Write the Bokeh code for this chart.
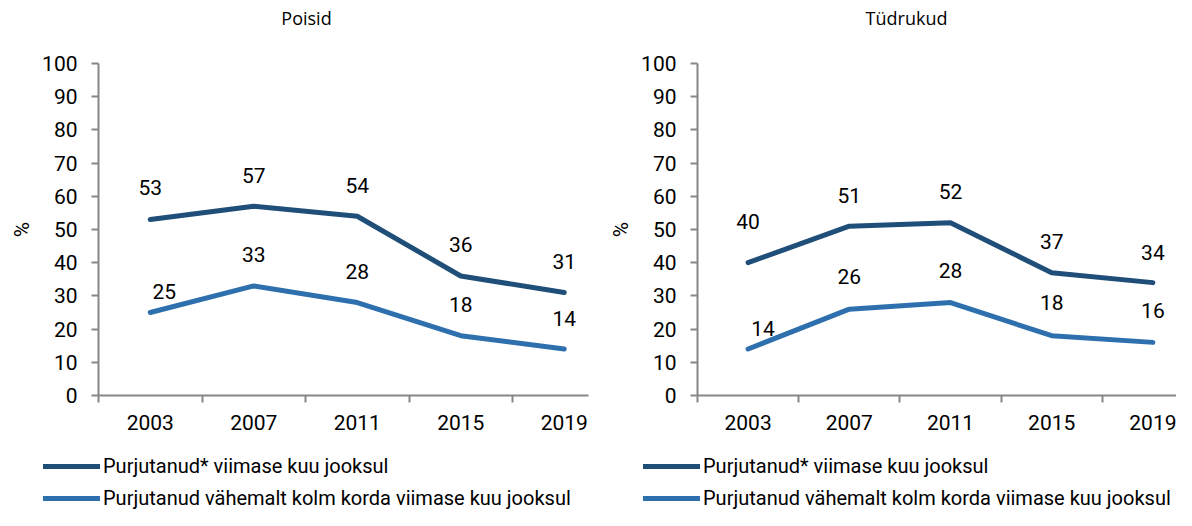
from bokeh.plotting import figure
from bokeh.models import Range1d, FixedTicker, Legend, LegendItem, Label, ColumnDataSource
from bokeh.layouts import row
from bokeh.embed import file_html
from bokeh.resources import INLINE
from bokeh.core.properties import value

# ---- data ----
years = ["2003", "2007", "2011", "2015", "2019"]
boys_month = [53, 57, 54, 36, 31]
boys_three = [25, 33, 28, 18, 14]
girls_month = [40, 51, 52, 37, 34]
girls_three = [14, 26, 28, 18, 16]
titles = ["Poisid", "Tüdrukud"]
series_names = ["Purjutanud* viimase kuu jooksul",
                "Purjutanud vähemalt kolm korda viimase kuu jooksul"]
y_ticks = [0, 10, 20, 30, 40, 50, 60, 70, 80, 90, 100]

# ---- label nudges (pixels) ----
boys_month_dx = [0, 0, 0, 0, 0]
boys_month_dy = [32, 31, 31, 31, 31]
boys_three_dx = [14, 0, 0, 0, 0]
boys_three_dy = [21, 31, 31, 31, 31]
girls_month_dx = [0, 0, 0, 0, 0]
girls_month_dy = [41, 31, 31, 31, 30]
girls_three_dx = [15, 0, 0, 0, 0]
girls_three_dy = [21, 33, 32, 33, 32]

DARK = "#1F4E79"
LIGHT = "#2E70AE"
GRAY = "#878787"
FONT = "Roboto"
H = 510
Y0_PX, Y100_PX = 395, 63          # screen rows of 0 % and 100 %


def make_panel(title, month, three, mdx, mdy, tdx, tdy, width, axis_px, step_px, axis_end_px):
    idx = list(range(len(years)))
    c0 = axis_px + 0.5 * step_px          # screen x of first category
    x_start = -c0 / step_px
    x_end = (width - c0) / step_px
    ppu = (Y0_PX - Y100_PX) / 100.0
    y_start = -(H - Y0_PX) / ppu
    y_end = Y0_PX / ppu

    p = figure(width=width, height=H, x_range=Range1d(x_start, x_end), y_range=Range1d(y_start, y_end),
               output_backend="svg", toolbar_location=None, title=None,
               min_border_left=0, min_border_right=0, min_border_top=0, min_border_bottom=0)
    p.outline_line_color = None
    p.xgrid.visible = False
    p.ygrid.visible = False

    xa = p.xaxis[0]
    xa.fixed_location = 0
    xa.bounds = (-0.5, (axis_end_px - c0) / step_px)
    xa.ticker = FixedTicker(ticks=idx, minor_ticks=[i - 0.5 for i in idx])
    xa.major_label_overrides = {i: y for i, y in zip(idx, years)}
    xa.axis_line_color = GRAY
    xa.axis_line_width = 2
    xa.major_tick_in = 0
    xa.major_tick_out = 0
    xa.minor_tick_in = 0
    xa.minor_tick_out = 7
    xa.minor_tick_line_color = GRAY
    xa.minor_tick_line_width = 2
    xa.major_label_standoff = 12
    xa.major_label_text_font = FONT
    xa.major_label_text_font_size = "21px"
    xa.major_label_text_color = "#000000"

    ya = p.yaxis[0]
    ya.fixed_location = -0.5
    ya.bounds = (0, 100)
    ya.ticker = FixedTicker(ticks=y_ticks)
    ya.axis_line_color = GRAY
    ya.axis_line_width = 2
    ya.major_tick_in = 0
    ya.major_tick_out = 7
    ya.major_tick_line_color = GRAY
    ya.major_tick_line_width = 2
    ya.minor_tick_out = 0
    ya.minor_tick_in = 0
    ya.major_label_standoff = 14
    ya.major_label_text_font = FONT
    ya.major_label_text_font_size = "21px"
    ya.major_label_text_color = "#000000"
    ya.axis_label = "%"
    ya.axis_label_text_font = FONT
    ya.axis_label_text_font_size = "21px"
    ya.axis_label_text_font_style = "normal"
    ya.axis_label_text_color = "#000000"
    ya.axis_label_standoff = 5

    src_m = ColumnDataSource(dict(x=idx, y=month, t=[str(v) for v in month], dx=mdx, dy=[-d for d in mdy]))
    src_t = ColumnDataSource(dict(x=idx, y=three, t=[str(v) for v in three], dx=tdx, dy=[-d for d in tdy]))

    r1 = p.line("x", "y", source=src_m, line_color=DARK, line_width=5, line_cap="round", line_join="round")
    r2 = p.line("x", "y", source=src_t, line_color=LIGHT, line_width=5, line_cap="round", line_join="round")

    for src in (src_m, src_t):
        p.text("x", "y", text="t", source=src, x_offset="dx", y_offset="dy",
               text_font=value(FONT), text_font_size="21px", text_color="#000000",
               text_align="center", text_baseline="middle")

    legend = Legend(items=[LegendItem(label=series_names[0], renderers=[r1]),
                           LegendItem(label=series_names[1], renderers=[r2])],
                    location=(43, 0), orientation="vertical",
                    glyph_width=57, glyph_height=20, label_height=20, label_standoff=3,
                    spacing=8, padding=0, margin=0,
                    border_line_color=None, background_fill_alpha=0,
                    label_text_font=FONT, label_text_font_size="20px", label_text_color="#000000")
    p.add_layout(legend)

    p.add_layout(Label(x=306, y=H - 17, x_units="screen", y_units="screen", text=title,
                       text_align="center", text_baseline="middle",
                       text_font="Open Sans", text_font_size="18px", text_color="#000000"))
    return p


p1 = make_panel(titles[0], boys_month, boys_three, boys_month_dx, boys_month_dy,
                boys_three_dx, boys_three_dy, 600, 98, 103.5, 588)
p2 = make_panel(titles[1], girls_month, girls_three, girls_month_dx, girls_month_dy,
                girls_three_dx, girls_three_dy, 576, 97, 101.2, 576)

layout = row(p1, p2)
open("out.html", "w").write(file_html(layout, INLINE))
